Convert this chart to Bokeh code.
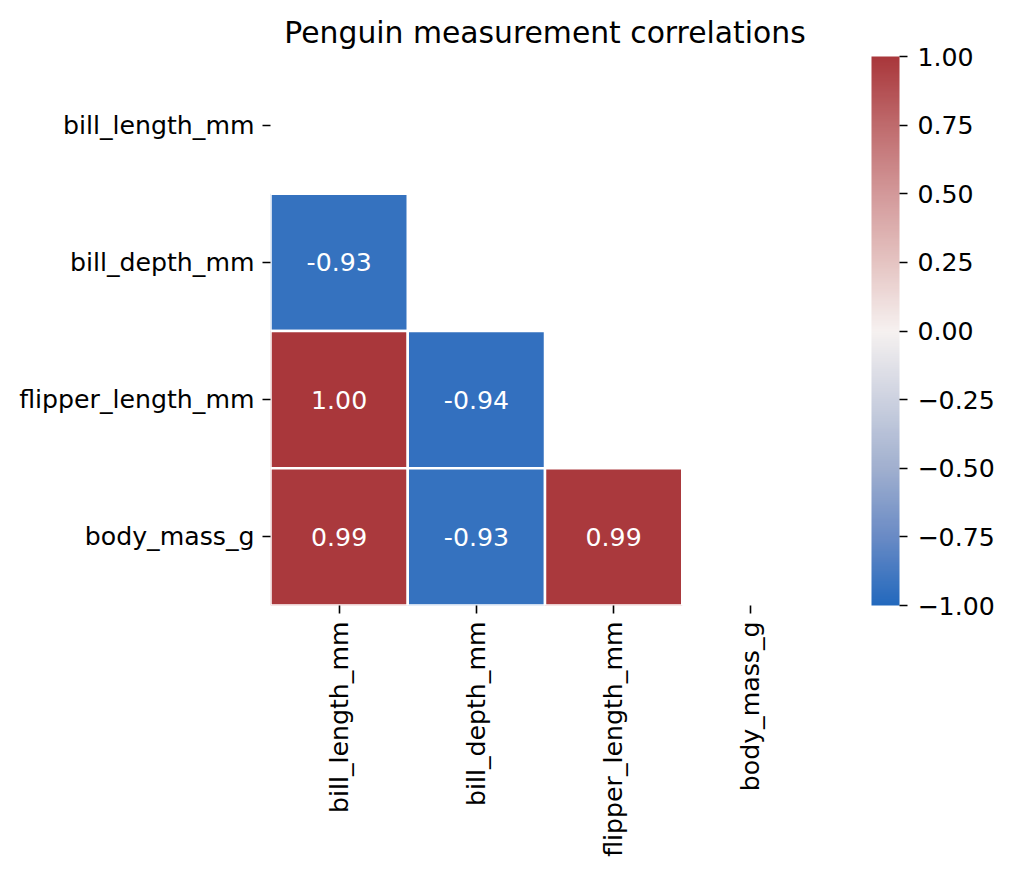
import math

from bokeh.plotting import figure
from bokeh.models import (ColumnDataSource, LinearColorMapper, ColorBar,
                          FixedTicker, CustomJSTickFormatter)
from bokeh.core.properties import value
from bokeh.embed import file_html
from bokeh.resources import INLINE

# measurement names (row order top->bottom, column order left->right)
measures = ["bill_length_mm", "bill_depth_mm", "flipper_length_mm", "body_mass_g"]

# visible (lower-triangle) cells of the correlation matrix
cell_rows = ["bill_depth_mm", "flipper_length_mm", "flipper_length_mm",
             "body_mass_g", "body_mass_g", "body_mass_g"]
cell_cols = ["bill_length_mm", "bill_length_mm", "bill_depth_mm",
             "bill_length_mm", "bill_depth_mm", "flipper_length_mm"]
cell_values = [-0.93, 1.00, -0.94, 0.99, -0.93, 0.99]

cbar_ticks = [-1.0, -0.75, -0.5, -0.25, 0.0, 0.25, 0.5, 0.75, 1.0]

FONT = "DejaVu Sans"
TICK_SIZE = "25.2px"

# approximate seaborn "vlag" colormap
anchors = [(35, 105, 189), (106, 139, 197), (161, 176, 207), (205, 210, 224),
           (246, 241, 240), (229, 196, 194), (211, 153, 154), (191, 107, 109),
           (169, 55, 59)]
palette = []
for k in range(256):
    t = k / 255 * (len(anchors) - 1)
    i = min(int(t), len(anchors) - 2)
    f = t - i
    c = [round(a + (b - a) * f) for a, b in zip(anchors[i], anchors[i + 1])]
    palette.append("#%02x%02x%02x" % tuple(c))

mapper = LinearColorMapper(palette=palette, low=-1, high=1)

source = ColumnDataSource(dict(
    row=cell_rows, col=cell_cols, val=cell_values,
    label=["%.2f" % v for v in cell_values],
))

p = figure(
    x_range=measures,
    y_range=list(reversed(measures)),
    frame_width=549,
    frame_height=549,
    min_border_left=270,
    min_border_top=56,
    min_border_bottom=255,
    min_border_right=180,
    title="Penguin measurement correlations",
    toolbar_location=None,
    tools="",
    output_backend="svg",
)
p.outline_line_color = None
p.grid.grid_line_color = None

p.rect(x="col", y="row", width=1, height=1, source=source,
       fill_color={"field": "val", "transform": mapper},
       line_color="white", line_width=2.5)
p.text(x="col", y="row", text="label", source=source,
       text_align="center", text_baseline="middle", text_color="white",
       text_font=value(FONT), text_font_size=TICK_SIZE)

p.title.text_font = FONT
p.title.text_font_size = "29.8px"
p.title.text_font_style = "normal"
p.title.align = "center"
p.title.text_color = "black"
p.title.standoff = 14

for ax in (p.xaxis[0], p.yaxis[0]):
    ax.axis_line_color = None
    ax.major_tick_in = 0
    ax.major_tick_out = 8
    ax.major_tick_line_width = 1.6
    ax.major_tick_line_color = "black"
    ax.minor_tick_line_color = None
    ax.major_label_text_font = FONT
    ax.major_label_text_font_size = TICK_SIZE
    ax.major_label_text_color = "black"
    ax.major_label_standoff = 8
p.xaxis.major_label_orientation = math.pi / 2

cbar = ColorBar(
    color_mapper=mapper,
    ticker=FixedTicker(ticks=cbar_ticks),
    formatter=CustomJSTickFormatter(code="""
        return (tick < 0 ? '\u2212' : '') + Math.abs(tick).toFixed(2);
    """),
    width=28,
    height=549,
    padding=0,
    margin=0,
    location=(52, 0),
    bar_line_color=None,
    border_line_color=None,
    major_tick_in=0,
    major_tick_out=8,
    major_tick_line_color="black",
    major_tick_line_width=1.6,
    minor_tick_line_color=None,
    label_standoff=10,
    major_label_text_font=FONT,
    major_label_text_font_size=TICK_SIZE,
    major_label_text_color="black",
)
p.add_layout(cbar, "right")

open("out.html", "w").write(file_html(p, INLINE))
